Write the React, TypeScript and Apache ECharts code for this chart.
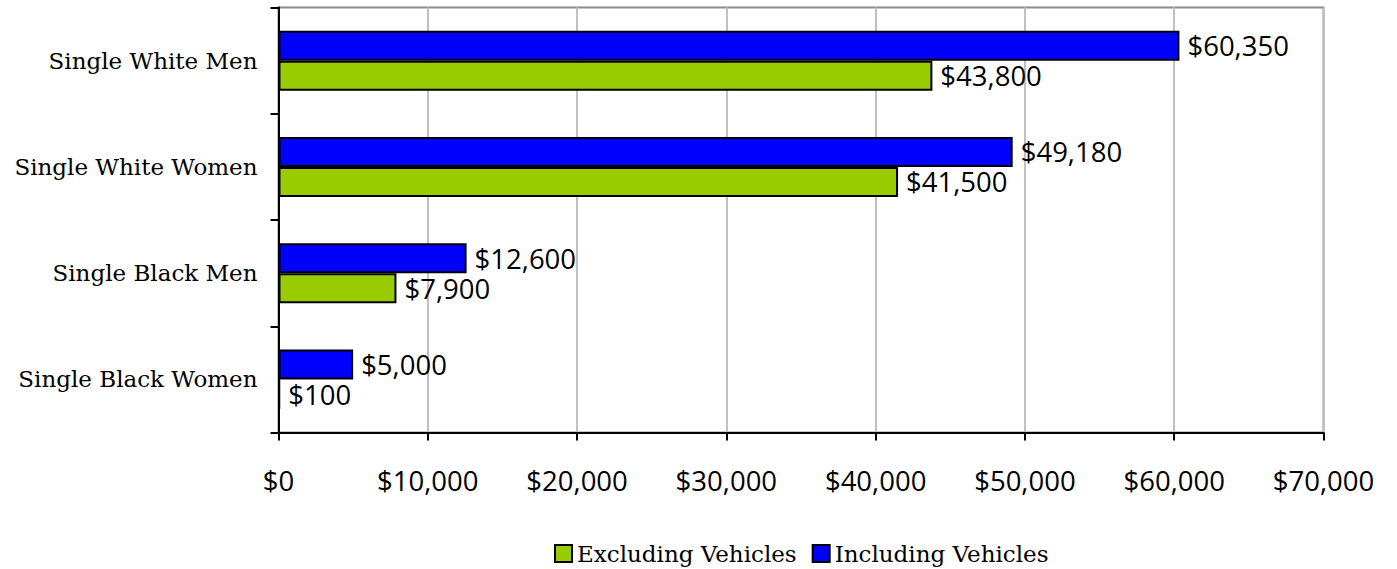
import React, { useEffect, useRef } from "react";
import * as echarts from "echarts";

const categories = [
  "Single White Men",
  "Single White Women",
  "Single Black Men",
  "Single Black Women",
];
const excludingVehicles = [43800, 41500, 7900, 100];
const includingVehicles = [60350, 49180, 12600, 5000];
const seriesNames = ["Excluding Vehicles", "Including Vehicles"];

const money = (v: number) => "$" + Math.round(v).toLocaleString("en-US");

export default function App() {
  const ref = useRef<HTMLDivElement>(null);
  useEffect(() => {
    if (!ref.current) return;
    const chart = echarts.init(ref.current, undefined, { renderer: "svg" });
    const serif = "DejaVu Serif";
    const sans = "Open Sans";
    const valueLabel = {
      show: true,
      position: "right" as const,
      distance: 8,
      fontFamily: sans,
      fontSize: 27.5,
      color: "#000",
      formatter: (p: any) => money(p.value),
    };
    chart.setOption({
      animation: false,
      backgroundColor: "#fff",
      grid: {
        left: 278.5,
        top: 7.5,
        right: 73.5,
        bottom: 136.5,
        show: true,
        borderColor: "#8c8c8c",
        borderWidth: 2,
        backgroundColor: "#fff",
      },
      legend: {
        left: 549,
        top: 537,
        itemWidth: 17,
        itemHeight: 17,
        itemGap: 15,
        icon: "rect",
        textStyle: { fontFamily: serif, fontSize: 23, color: "#000" },
        data: seriesNames,
      },
      xAxis: {
        type: "value",
        min: 0,
        max: 70000,
        interval: 10000,
        axisLine: { show: true, lineStyle: { color: "#000", width: 2 } },
        axisTick: {
          show: true,
          inside: false,
          length: 8,
          lineStyle: { color: "#000", width: 2 },
        },
        splitLine: { show: true, lineStyle: { color: "#c0c0c0", width: 2 } },
        axisLabel: {
          margin: 34,
          fontFamily: sans,
          fontSize: 27.5,
          color: "#000",
          formatter: (v: number) => money(v),
        },
      },
      yAxis: {
        type: "category",
        data: categories,
        inverse: true,
        axisLine: { show: true, lineStyle: { color: "#000", width: 2 } },
        axisTick: {
          show: true,
          inside: false,
          length: 8,
          lineStyle: { color: "#000", width: 2 },
        },
        axisLabel: {
          margin: 21,
          fontFamily: serif,
          fontSize: 23,
          color: "#000",
        },
      },
      series: [
        {
          name: seriesNames[1],
          type: "bar",
          data: includingVehicles,
          barWidth: 30,
          barGap: "0%",
          itemStyle: { color: "#0000ff", borderColor: "#000", borderWidth: 2 },
          label: valueLabel,
        },
        {
          name: seriesNames[0],
          type: "bar",
          data: excludingVehicles,
          barWidth: 30,
          barGap: "0%",
          itemStyle: { color: "#99cc00", borderColor: "#000", borderWidth: 2 },
          label: valueLabel,
        },
      ],
    });
    return () => chart.dispose();
  }, []);
  return <div ref={ref} style={{ width: 1397, height: 569, position: "absolute", left: 0, top: 0 }} />;
}
